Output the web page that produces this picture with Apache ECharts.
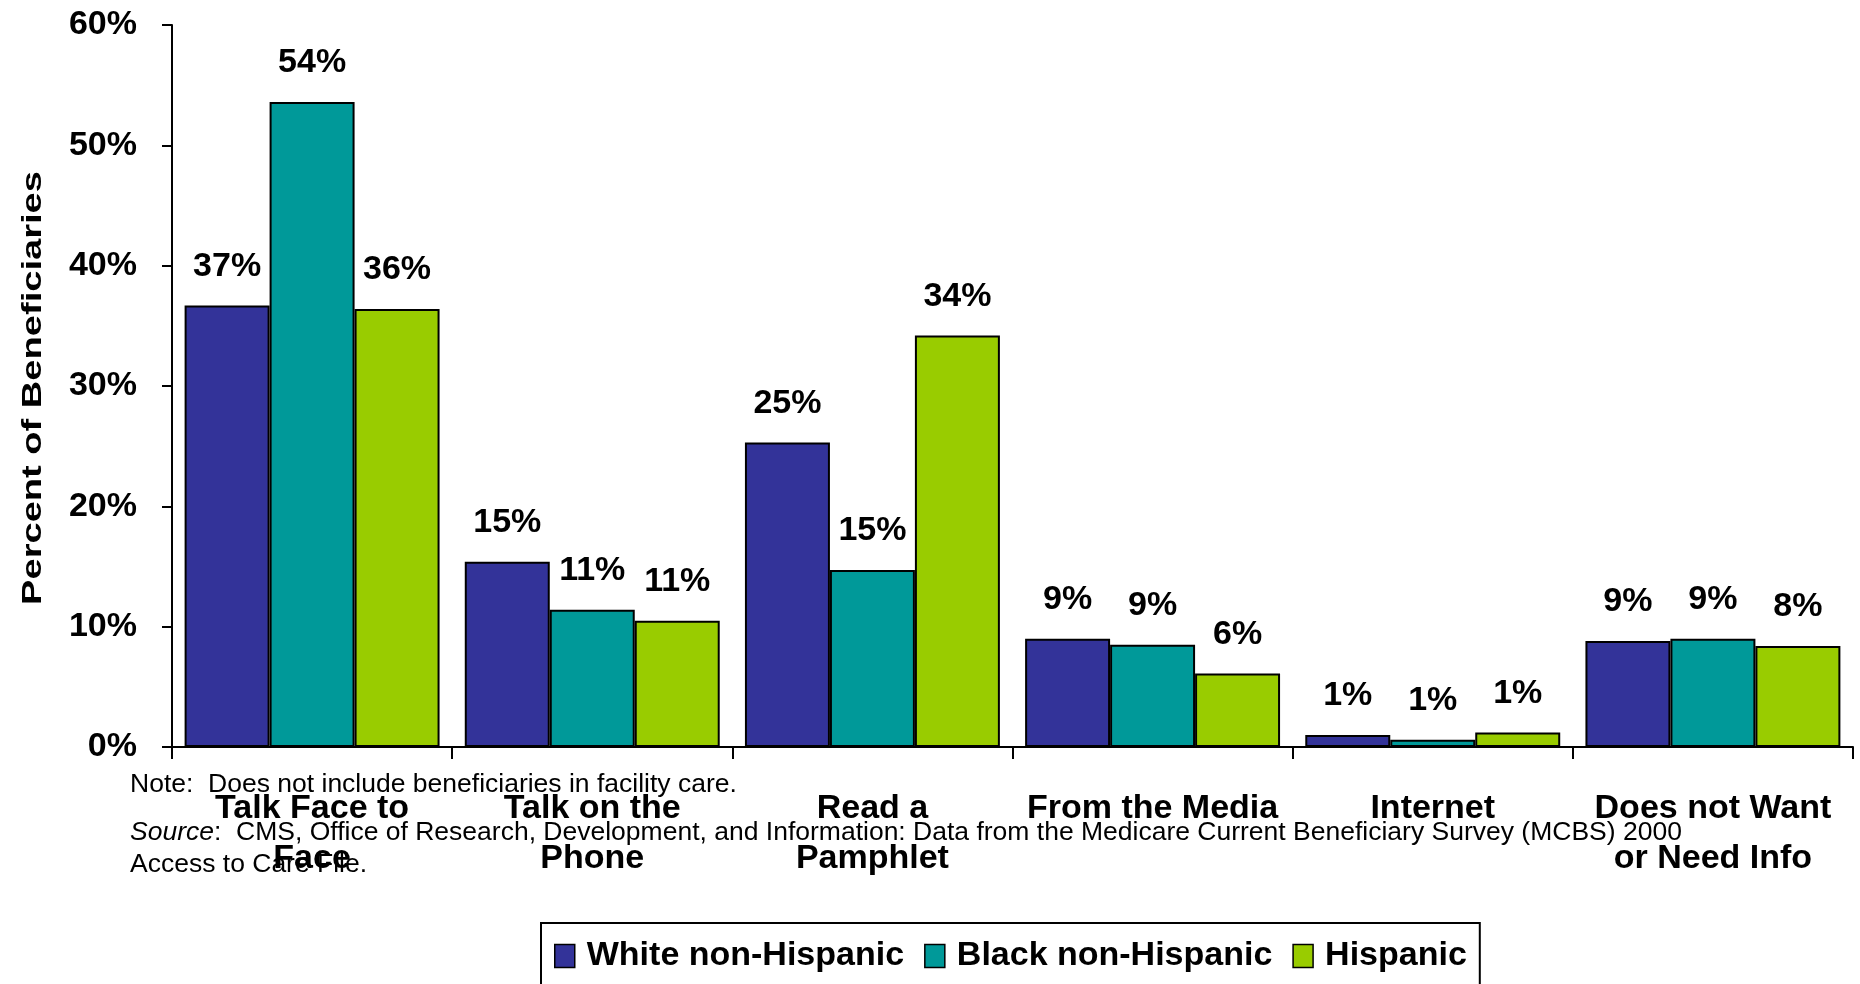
<!DOCTYPE html>
<html>
<head>
<meta charset="utf-8">
<script src="https://cdn.jsdelivr.net/npm/echarts@6/dist/echarts.min.js"></script>
<style>
  html, body { margin: 0; padding: 0; background: #ffffff; }
  #chart { width: 1860px; height: 984px; }
</style>
</head>
<body>
<div id="chart"></div>
<script>
// Preferred ways of getting Medicare information, by race/ethnicity (percent of beneficiaries)
const categories = [
  'Talk Face to\nFace',
  'Talk on the\nPhone',
  'Read a\nPamphlet',
  'From the Media',
  'Internet',
  'Does not Want\nor Need Info'
];
const seriesNames = ['White non-Hispanic', 'Black non-Hispanic', 'Hispanic'];
const whiteNonHispanic = [36.7, 15.4, 25.3, 9.0, 1.0, 8.8];
const blackNonHispanic = [53.6, 11.4, 14.7, 8.5, 0.6, 9.0];
const hispanic = [36.4, 10.5, 34.2, 6.1, 1.2, 8.4];
const yMin = 0;
const yMax = 60;
const yStep = 10;
const yTitle = 'Percent of Beneficiaries';
const noteText = 'Note:  Does not include beneficiaries in facility care.';
const sourceText = ':  CMS, Office of Research, Development, and Information: Data from the Medicare Current Beneficiary Survey (MCBS) 2000';
const sourceText2 = 'Access to Care File.';

const FONT = "'Liberation Sans', Arial, Helvetica, sans-serif";
const colors = ['#333399', '#009999', '#99CC00'];
const seriesData = [whiteNonHispanic, blackNonHispanic, hispanic];

const chart = echarts.init(document.getElementById('chart'), null, { renderer: 'canvas' });

chart.setOption({
  animation: false,
  backgroundColor: '#ffffff',
  grid: { left: 172, right: 7, top: 25, bottom: 237 },
  legend: {
    data: seriesNames,
    left: 541,
    top: 923,
    orient: 'horizontal',
    icon: 'rect',
    itemWidth: 20,
    itemHeight: 23,
    itemGap: 20,
    padding: [16, 13, 40, 13],
    borderColor: '#000',
    borderWidth: 2,
    backgroundColor: '#fff',
    itemStyle: { borderColor: '#000', borderWidth: 1.5 },
    textStyle: { fontSize: 34, fontWeight: 'bold', color: '#000', fontFamily: FONT, padding: [0, 0, 0, 7] }
  },
  xAxis: {
    type: 'category',
    data: categories,
    axisLine: { show: true, lineStyle: { color: '#000', width: 2 } },
    axisTick: { show: true, length: 12, lineStyle: { color: '#000', width: 2 } },
    axisLabel: {
      interval: 0, margin: 37, fontSize: 34, fontWeight: 'bold', color: '#000',
      lineHeight: 50, fontFamily: FONT
    }
  },
  yAxis: {
    type: 'value',
    min: yMin, max: yMax, interval: yStep,
    axisLine: { show: true, lineStyle: { color: '#000', width: 2 } },
    axisTick: { show: true, length: 10, lineStyle: { color: '#000', width: 2 } },
    splitLine: { show: false },
    axisLabel: {
      formatter: '{value}%', margin: 35, fontSize: 34, fontWeight: 'bold',
      color: '#000', fontFamily: FONT, padding: [5, 0, 0, 0]
    }
  },
  series: seriesData.map((d, i) => ({
    name: seriesNames[i],
    type: 'bar',
    data: d,
    barGap: '0%',
    barCategoryGap: '9%',
    itemStyle: { color: colors[i], borderColor: '#000', borderWidth: 2 },
    label: {
      show: true, position: 'top', distance: 22,
      formatter: p => Math.round(p.value) + '%',
      fontSize: 34, fontWeight: 'bold', color: '#000', fontFamily: FONT
    }
  })),
  graphic: [
    {
      type: 'text', x: 33, y: 388, rotation: Math.PI / 2, scaleX: 1.36,
      style: {
        text: yTitle, fontSize: 28, fontWeight: 'bold', fontFamily: FONT,
        fill: '#000', align: 'center', verticalAlign: 'middle'
      }
    },
    {
      type: 'text', x: 130, y: 785,
      style: { text: noteText, fontSize: 26.5, fontFamily: FONT, fill: '#000', align: 'left', verticalAlign: 'middle' }
    },
    {
      type: 'text', x: 130, y: 833,
      style: {
        text: '{i|Source}' + sourceText, fontSize: 26.5, fontFamily: FONT, fill: '#000',
        align: 'left', verticalAlign: 'middle',
        rich: { i: { fontStyle: 'italic', fontSize: 26.5, fontFamily: FONT, fill: '#000' } }
      }
    },
    {
      type: 'text', x: 130, y: 865,
      style: { text: sourceText2, fontSize: 26.5, fontFamily: FONT, fill: '#000', align: 'left', verticalAlign: 'middle' }
    }
  ]
});
</script>
</body>
</html>
